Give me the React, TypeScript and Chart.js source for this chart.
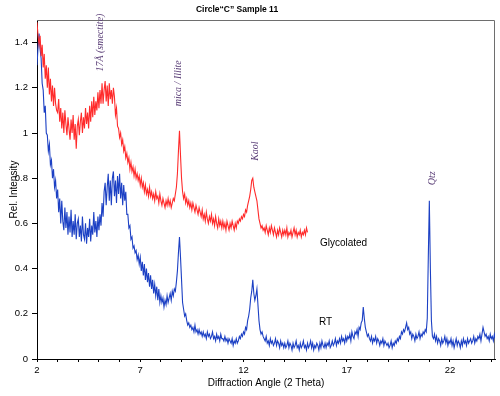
import React, { useEffect, useRef } from 'react';
import { Chart, registerables } from 'chart.js';

Chart.register(...registerables);

const TITLE = 'Circle“C” Sample 11';
const X_TITLE = 'Diffraction Angle (2 Theta)';
const Y_TITLE = 'Rel. Intensity';
const X_LABELED_TICKS = [2, 7, 12, 17, 22];
const X_MIN = 2;
const X_MAX = 24.18;
const Y_MIN = 0;
const Y_MAX = 1.5;
const Y_STEP = 0.2;

// scan grid (degrees 2-theta)
const ANGLE_START = 2.0;
const ANGLE_STEP = 0.05;

// RT (air dried) trace, 2.00 .. 24.20 (one row per degree)
const RT = [
  1.30, 1.38, 1.44, 1.37, 1.33, 1.22, 1.19, 1.09, 1.12, 1.00, 0.99, 0.92, 0.95, 0.86, 0.88, 0.80, 0.84, 0.76, 0.79, 0.71,
  0.75, 0.65, 0.71, 0.60, 0.70, 0.61, 0.57, 0.67, 0.58, 0.65, 0.55, 0.63, 0.56, 0.66, 0.54, 0.61, 0.55, 0.64, 0.53, 0.60,
  0.62, 0.54, 0.59, 0.52, 0.63, 0.55, 0.53, 0.60, 0.51, 0.58, 0.54, 0.62, 0.52, 0.59, 0.55, 0.65, 0.56, 0.61, 0.54, 0.63,
  0.57, 0.64, 0.59, 0.69, 0.63, 0.74, 0.78, 0.68, 0.76, 0.82, 0.70, 0.79, 0.68, 0.80, 0.83, 0.72, 0.79, 0.69, 0.81, 0.73,
  0.82, 0.71, 0.78, 0.68, 0.77, 0.70, 0.74, 0.64, 0.64, 0.58, 0.59, 0.53, 0.54, 0.49, 0.50, 0.47, 0.48, 0.44, 0.46, 0.42,
  0.45, 0.39, 0.43, 0.37, 0.42, 0.35, 0.40, 0.34, 0.38, 0.32, 0.37, 0.31, 0.35, 0.29, 0.33, 0.28, 0.32, 0.26, 0.31, 0.25,
  0.28, 0.25, 0.27, 0.23, 0.26, 0.24, 0.28, 0.25, 0.27, 0.29, 0.26, 0.30, 0.28, 0.31, 0.30, 0.34, 0.39, 0.47, 0.54, 0.45,
  0.35, 0.25, 0.22, 0.19, 0.20, 0.17, 0.15, 0.16, 0.14, 0.15, 0.13, 0.14, 0.12, 0.15, 0.12, 0.13, 0.11, 0.13, 0.11, 0.12,
  0.10, 0.12, 0.10, 0.11, 0.09, 0.12, 0.10, 0.11, 0.09, 0.10, 0.12, 0.09, 0.10, 0.08, 0.11, 0.09, 0.10, 0.08, 0.11, 0.09,
  0.09, 0.08, 0.10, 0.08, 0.09, 0.07, 0.09, 0.08, 0.07, 0.09, 0.06, 0.08, 0.07, 0.09, 0.07, 0.08, 0.10, 0.09, 0.11, 0.10,
  0.12, 0.11, 0.14, 0.13, 0.17, 0.19, 0.22, 0.27, 0.30, 0.35, 0.29, 0.26, 0.28, 0.31, 0.24, 0.17, 0.13, 0.11, 0.12, 0.10,
  0.09, 0.08, 0.10, 0.07, 0.08, 0.06, 0.09, 0.07, 0.08, 0.06, 0.07, 0.09, 0.06, 0.08, 0.07, 0.05, 0.08, 0.06, 0.07, 0.05,
  0.07, 0.05, 0.06, 0.08, 0.05, 0.07, 0.06, 0.04, 0.07, 0.05, 0.06, 0.08, 0.05, 0.06, 0.04, 0.07, 0.05, 0.06, 0.08, 0.05,
  0.06, 0.04, 0.07, 0.05, 0.06, 0.08, 0.05, 0.07, 0.04, 0.06, 0.05, 0.07, 0.06, 0.04, 0.07, 0.05, 0.08, 0.06, 0.05, 0.07,
  0.05, 0.07, 0.06, 0.08, 0.05, 0.06, 0.08, 0.06, 0.07, 0.09, 0.06, 0.08, 0.07, 0.09, 0.07, 0.10, 0.08, 0.09, 0.07, 0.10,
  0.08, 0.10, 0.09, 0.11, 0.08, 0.12, 0.10, 0.09, 0.12, 0.11, 0.13, 0.10, 0.14, 0.13, 0.16, 0.17, 0.23, 0.18, 0.14, 0.12,
  0.10, 0.11, 0.09, 0.08, 0.10, 0.07, 0.09, 0.08, 0.10, 0.07, 0.09, 0.08, 0.06, 0.08, 0.07, 0.09, 0.06, 0.08, 0.07, 0.06,
  0.07, 0.05, 0.06, 0.08, 0.05, 0.07, 0.06, 0.08, 0.07, 0.09, 0.08, 0.10, 0.09, 0.12, 0.11, 0.13, 0.12, 0.14, 0.16, 0.13,
  0.14, 0.11, 0.12, 0.09, 0.11, 0.10, 0.08, 0.11, 0.09, 0.10, 0.12, 0.09, 0.11, 0.10, 0.12, 0.11, 0.13, 0.12, 0.18, 0.45,
  0.70, 0.40, 0.17, 0.10, 0.09, 0.11, 0.08, 0.10, 0.07, 0.09, 0.08, 0.06, 0.09, 0.07, 0.08, 0.10, 0.07, 0.09, 0.06, 0.08,
  0.07, 0.09, 0.06, 0.08, 0.05, 0.07, 0.09, 0.06, 0.08, 0.07, 0.05, 0.08, 0.06, 0.09, 0.07, 0.08, 0.06, 0.09, 0.07, 0.08,
  0.09, 0.07, 0.08, 0.10, 0.07, 0.09, 0.08, 0.10, 0.09, 0.11, 0.08, 0.11, 0.14, 0.12, 0.10, 0.11, 0.09, 0.10, 0.08, 0.11,
  0.09, 0.10, 0.08, 0.11, 0.09,
];

// Glycolated trace, 2.00 .. 15.10 (one row per degree)
const GLYCOLATED = [
  1.49, 1.43, 1.39, 1.43, 1.34, 1.39, 1.29, 1.35, 1.24, 1.30, 1.20, 1.29, 1.17, 1.24, 1.14, 1.21, 1.12, 1.20, 1.13, 1.10,
  1.09, 1.15, 1.05, 1.11, 1.02, 1.09, 1.00, 1.10, 1.04, 0.99, 1.07, 1.02, 0.97, 1.06, 1.00, 1.08, 0.97, 1.04, 0.93, 1.03,
  1.06, 0.99, 1.05, 1.09, 1.00, 1.07, 1.02, 1.11, 1.04, 1.09, 1.02, 1.12, 1.05, 1.14, 1.07, 1.16, 1.08, 1.14, 1.10, 1.18,
  1.11, 1.19, 1.13, 1.22, 1.13, 1.19, 1.23, 1.14, 1.21, 1.12, 1.22, 1.15, 1.19, 1.13, 1.20, 1.16, 1.08, 1.11, 1.03, 1.02,
  0.98, 1.00, 0.95, 0.97, 0.92, 0.94, 0.89, 0.91, 0.87, 0.89, 0.84, 0.87, 0.83, 0.85, 0.81, 0.84, 0.80, 0.82, 0.79, 0.81,
  0.77, 0.80, 0.76, 0.78, 0.74, 0.77, 0.73, 0.75, 0.72, 0.76, 0.72, 0.74, 0.71, 0.73, 0.70, 0.74, 0.71, 0.72, 0.69, 0.73,
  0.70, 0.68, 0.71, 0.69, 0.67, 0.70, 0.68, 0.71, 0.68, 0.70, 0.67, 0.69, 0.71, 0.70, 0.73, 0.76, 0.82, 0.92, 1.01, 0.90,
  0.80, 0.74, 0.71, 0.73, 0.69, 0.71, 0.68, 0.70, 0.67, 0.69, 0.66, 0.69, 0.67, 0.65, 0.68, 0.66, 0.64, 0.67, 0.65, 0.63,
  0.66, 0.62, 0.64, 0.61, 0.65, 0.62, 0.60, 0.63, 0.61, 0.64, 0.60, 0.62, 0.59, 0.63, 0.60, 0.58, 0.62, 0.59, 0.61, 0.58,
  0.61, 0.58, 0.60, 0.57, 0.61, 0.59, 0.57, 0.60, 0.58, 0.61, 0.59, 0.57, 0.60, 0.58, 0.61, 0.60, 0.62, 0.61, 0.63, 0.62,
  0.64, 0.63, 0.66, 0.65, 0.68, 0.70, 0.72, 0.75, 0.79, 0.80, 0.76, 0.74, 0.72, 0.70, 0.66, 0.62, 0.60, 0.58, 0.59, 0.57,
  0.58, 0.56, 0.59, 0.57, 0.55, 0.58, 0.56, 0.59, 0.57, 0.55, 0.58, 0.56, 0.54, 0.57, 0.55, 0.58, 0.56, 0.54, 0.57, 0.55,
  0.57, 0.55, 0.58, 0.54, 0.56, 0.55, 0.57, 0.54, 0.56, 0.58, 0.55, 0.57, 0.54, 0.56, 0.55, 0.57, 0.54, 0.56, 0.55, 0.57,
  0.55, 0.58, 0.56,
];

const SERIES_NAMES = ['Glycolated', 'RT'];
const SERIES_COLORS = ['#ff2b2b', '#1c40c4'];
// where each series name is written, in data coordinates
const SERIES_LABEL_AT = [
  { x: 15.7, y: 0.51 },
  { x: 15.66, y: 0.164 },
];

// handwritten peak notes, in data coordinates (centre of text)
const NOTES = [
  { text: '17Å (smectite)', x: 5.05, y: 1.40 },
  { text: 'mica / Illite', x: 8.83, y: 1.22 },
  { text: 'Kaol', x: 12.56, y: 0.92 },
  { text: 'Qtz', x: 21.13, y: 0.80 },
];

const toPoints = (arr: number[]) =>
  arr.map((v, i) => ({ x: +(ANGLE_START + i * ANGLE_STEP).toFixed(2), y: v }));

const FONT = '"Liberation Sans", Arial, sans-serif';

export default function App() {
  const ref = useRef<HTMLCanvasElement | null>(null);

  useEffect(() => {
    const canvas = ref.current;
    if (!canvas) return;

    const decor = {
      id: 'decor',
      beforeDatasetsDraw(chart: any) {
        const { ctx, chartArea: a } = chart;
        ctx.save();
        ctx.strokeStyle = '#6e6e6e';
        ctx.lineWidth = 1;
        ctx.beginPath();
        ctx.moveTo(a.left, a.top + 0.5);
        ctx.lineTo(a.right - 0.5, a.top + 0.5);
        ctx.lineTo(a.right - 0.5, a.bottom);
        ctx.stroke();
        ctx.restore();
      },
      afterDraw(chart: any) {
        const { ctx } = chart;
        const xs = chart.scales.x;
        const ys = chart.scales.y;
        ctx.save();
        // title
        ctx.fillStyle = '#000';
        ctx.font = `bold 8.5px ${FONT}`;
        ctx.textAlign = 'center';
        ctx.textBaseline = 'middle';
        ctx.fillText(TITLE, 237, 10);
        // series labels
        ctx.font = `10px ${FONT}`;
        ctx.textAlign = 'left';
        SERIES_NAMES.forEach((n, i) => {
          const p = SERIES_LABEL_AT[i];
          ctx.fillText(n, xs.getPixelForValue(p.x), ys.getPixelForValue(p.y));
        });
        // handwritten notes
        ctx.fillStyle = '#5b3f78';
        ctx.font = `italic 10px "Liberation Serif", serif`;
        ctx.textAlign = 'center';
        NOTES.forEach((n) => {
          ctx.save();
          ctx.translate(xs.getPixelForValue(n.x), ys.getPixelForValue(n.y));
          ctx.rotate(-Math.PI / 2);
          ctx.fillText(n.text, 0, 0);
          ctx.restore();
        });
        ctx.restore();
      },
    };

    const chart = new Chart(canvas, {
      type: 'line',
      data: {
        datasets: [
          {
            label: SERIES_NAMES[0],
            data: toPoints(GLYCOLATED),
            borderColor: SERIES_COLORS[0],
            borderWidth: 1.1,
            pointRadius: 0,
            tension: 0,
            fill: false,
          },
          {
            label: SERIES_NAMES[1],
            data: toPoints(RT),
            borderColor: SERIES_COLORS[1],
            borderWidth: 1.1,
            pointRadius: 0,
            tension: 0,
            fill: false,
          },
        ],
      },
      options: {
        animation: false,
        responsive: false,
        devicePixelRatio: 1,
        parsing: false,
        normalized: true,
        layout: { padding: { top: 20, right: 5, left: 0, bottom: 0 } },
        plugins: {
          legend: { display: false },
          title: { display: false },
          tooltip: { enabled: false },
        },
        scales: {
          x: {
            type: 'linear',
            min: X_MIN,
            max: X_MAX,
            afterFit: (s: any) => {
              s.height = 37;
            },
            border: { display: true, color: '#000', width: 1 },
            grid: { display: true, drawOnChartArea: false, drawTicks: true, tickLength: 3, color: '#000' },
            ticks: {
              stepSize: 1,
              autoSkip: false,
              maxRotation: 0,
              includeBounds: false,
              padding: 3,
              color: '#000',
              font: { family: FONT, size: 9.5 },
              callback: (v: any) => (X_LABELED_TICKS.includes(Math.round(Number(v) * 100) / 100) ? String(v) : ''),
            },
            title: {
              display: true,
              text: X_TITLE,
              color: '#000',
              font: { family: FONT, size: 10 },
              padding: { top: 0, bottom: 7 },
            },
          },
          y: {
            type: 'linear',
            min: Y_MIN,
            max: Y_MAX,
            afterFit: (s: any) => {
              s.width = 37;
            },
            border: { display: true, color: '#000', width: 1 },
            grid: { display: true, drawOnChartArea: false, drawTicks: true, tickLength: 5, color: '#000' },
            ticks: {
              stepSize: Y_STEP,
              includeBounds: false,
              padding: 4,
              color: '#000',
              font: { family: FONT, size: 9.5 },
              callback: (v: any) => String(Math.round(Number(v) * 10) / 10),
            },
            title: {
              display: true,
              text: Y_TITLE,
              color: '#000',
              font: { family: FONT, size: 10 },
              padding: { top: 8, bottom: 0 },
            },
          },
        },
      },
      plugins: [decor],
    } as any);

    return () => chart.destroy();
  }, []);

  return (
    <div style={{ position: 'fixed', left: 0, top: 0, width: 500, height: 396, background: '#fff' }}>
      <canvas ref={ref} width={500} height={396} style={{ display: 'block', width: 500, height: 396 }} />
    </div>
  );
}
